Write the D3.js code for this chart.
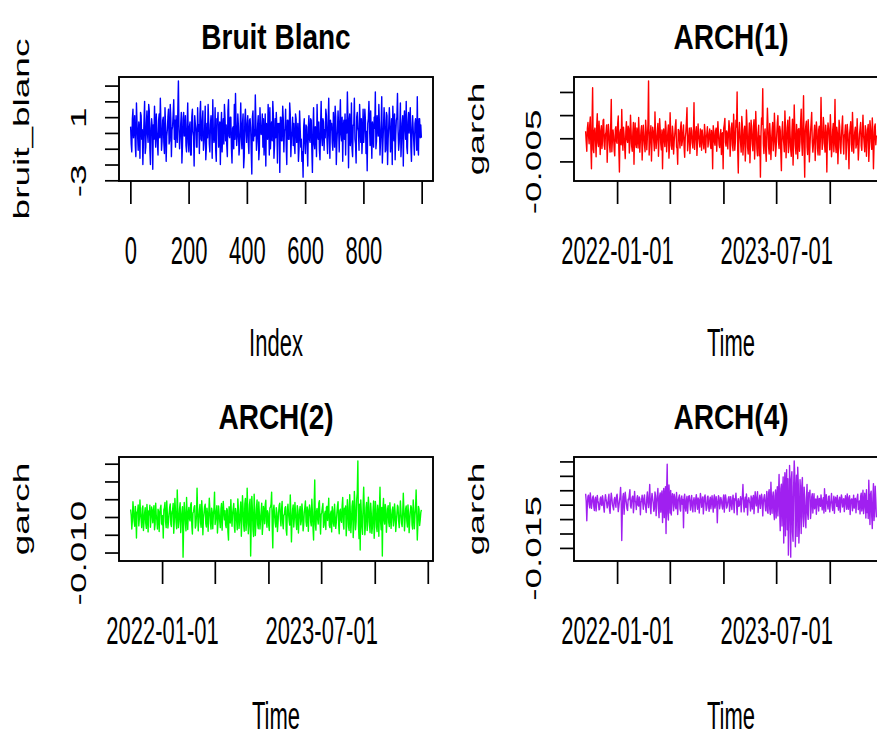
<!DOCTYPE html>
<html>
<head>
<meta charset="utf-8">
<script src="https://cdn.jsdelivr.net/npm/d3@7"></script>
<style>
  body { margin: 0; background: #fff; }
  svg { display: block; background: #fff; }
</style>
</head>
<body>
<svg id="chart" width="877" height="738"></svg>
<script>
// ---- Data -----------------------------------------------------------------
// White noise N(0,1): every 2nd observation of a 1000-point series.
const bruitBlanc = [
  0.4, -0.7, -1.2, 0.9, 1.5, -0.3, 0.3, 1.1, -0.8, -1.5, 1.9, 0.6, -0.2, -1.1, 0.7, 0.2, -1.6, 1.3, 1.1, -0.4, 0.2, -2.0, -0.5, 0.8, 2.0,
  -1.3, -0.9, 0.6, 1.4, -0.1, -0.6, 1.8, 1.4, -1.0, -2.0, 0.3, 0.9, 0.4, -2.3, 0.5, -0.4, 1.7, 0.1, -0.9, 1.2, 0.1, -0.7, -1.4, 0.8, 1.2,
  -0.3, 2.2, 0.6, -1.1, -0.5, 0.8, 1.0, -0.6, -1.3, 1.6, 0.4, -1.8, -0.2, 0.2, 1.0, 1.5, -0.7, -0.5, 1.8, 0.9, -1.5, 0.2, 0.4, 1.2, 2.1,
  -0.4, 0.8, -0.9, 1.1, 0.3, -0.6, 1.4, 3.3, 0.2, -1.0, -0.3, 0.6, 1.3, -1.9, -0.8, 0.9, 1.3, -0.2, 0.0, 1.1, -0.8, -1.2, 0.5, 1.9, -0.6,
  -1.2, 0.4, 0.7, -1.4, -1.4, 1.0, 1.5, 0.1, -0.2, -2.1, 1.1, 0.6, 0.3, -0.9, -0.9, 1.6, 0.1, 0.5, -1.3, 1.2, 2.0, -0.4, -0.5, 0.8, 1.4,
  -1.1, -0.6, 0.2, 1.7, -1.7, -0.9, 0.6, -0.3, 1.8, 0.7, -0.7, -1.2, 0.5, 1.1, 0.3, -1.6, 2.1, 0.0, -0.6, -0.3, 1.6, -1.1, -1.8, 0.9, 0.6,
  1.3, -0.9, -0.1, 0.7, -2.0, 0.2, 1.3, -1.2, 0.1, 0.9, -0.7, 1.8, 1.0, -0.5, 0.5, -0.8, -1.5, 1.4, 2.1, -0.2, -0.3, 1.0, 1.0, -1.0, -1.9,
  0.3, 0.4, -1.0, 1.8, -0.4, 2.5, 0.5, -0.8, -0.2, 1.2, 0.4, -1.4, -0.9, 0.3, 1.9, -0.3, -1.0, 0.6, 1.2, -2.2, -1.5, 0.8, 1.5, 0.2, -0.6,
  0.5, 1.1, -0.6, -1.3, 0.8, 0.9, 0.3, -1.2, -2.6, 1.0, 1.4, -0.5, 0.2, -0.2, 2.4, 0.7, -1.1, -0.5, 0.5, 1.1, -1.7, -1.0, 1.6, 0.4, -0.1,
  0.0, 1.2, -0.9, 0.9, -1.4, -0.3, 1.2, -2.1, 0.6, 0.3, -0.4, 1.8, 0.7, -1.4, 1.6, -1.0, 0.1, 0.7, -0.5, 2.0, 1.1, -1.6, -0.8, 0.9, -0.3,
  1.3, 0.3, -1.9, 0.6, 0.2, 0.6, -2.5, 1.0, 1.0, -0.5, -0.5, 1.7, 0.9, -1.2, 0.2, 0.2, 1.5, -0.8, -2.0, 0.8, 0.8, -0.4, -0.4, 1.9, 1.2,
  -1.5, -0.3, 0.1, 1.0, -0.8, 0.6, -0.7, -1.3, 1.2, 0.9, -0.6, -0.5, 0.6, -1.8, -1.0, 1.4, 0.3, -0.9, -0.4, -1.8, -1.2, -2.8, 0.4, 0.9, -0.6,
  -1.3, 0.5, 0.4, -0.8, -2.1, 0.3, 1.1, -0.4, -0.6, 0.9, 0.8, -1.1, -2.5, 0.2, 1.6, -0.7, -1.0, 0.4, 0.3, -1.5, 1.8, 0.1, -0.4, 0.7, -1.1,
  -1.7, 0.4, 2.0, -0.3, -0.8, 0.9, 0.7, -1.1, 0.2, -0.3, 1.5, 1.1, -0.4, -1.3, 0.6, 2.2, -0.2, -1.6, 0.8, 0.2, 0.6, -0.6, -1.1, 1.3, 0.4,
  -0.9, 1.7, 1.0, -2.0, -0.6, 0.2, 1.4, 0.3, -1.2, 0.7, 2.1, -0.1, -0.5, 1.0, -1.8, 0.4, 0.8, -0.4, 1.2, -1.4, 0.8, 0.0, 2.6, 0.9, -2.2,
  0.7, 1.2, -0.8, -0.3, 1.9, -1.0, -1.5, 0.5, 0.5, 2.2, -0.4, -0.7, -1.9, 1.0, 1.3, 0.3, 0.1, -1.1, 1.8, 0.6, -0.6, 0.9, -1.3, -0.3, 1.5,
  -0.6, 0.2, 1.5, 0.8, -1.3, 0.1, -2.4, 0.6, 0.9, 2.0, 0.4, -0.8, 1.4, -0.1, -1.6, 0.7, 0.3, -0.9, 1.0, 0.3, 2.6, -1.0, -0.5, 1.1, 0.4,
  -0.2, 1.8, 0.6, -1.4, -0.5, 0.6, 2.3, -1.9, -0.7, 0.4, 1.6, 0.8, -1.2, -1.1, 1.3, 1.1, -2.0, -0.4, 0.4, 1.6, 0.7, -1.2, -0.3, 0.9, -2.0,
  1.7, 0.5, -0.5, 1.2, -1.7, -0.2, 0.8, 1.0, 2.5, 0.2, -1.1, -0.6, 0.3, 1.9, -1.5, -0.4, 0.6, 1.1, -2.1, 0.5, 1.4, 0.3, -0.4, 2.0, -0.9,
  -1.3, 0.7, 1.3, 0.0, 0.7, 1.6, -0.9, -1.8, 0.3, 1.1, 0.2, -0.6, -1.4, 0.6, 0.9, 0.2, -1.1, 2.3, -0.8, -1.4, 0.9, 0.9, -0.3, 0.5, -0.3
];

// Simulated ARCH returns in thousandths (x 1e-3), one value every 2 days.
const arch1 = [
  1.5, -0.8, -2.8, 2.1, 3.4, 0.6, -1.2, 2.8, 4.6, -1.9, -6.6, 3.2, 10.9, -2.4, -3.1, 1.7, 2.2, -0.5, -4.0, 2.6, 5.3, -1.0, -1.8, 3.7, 0.9,
  -3.5, 1.4, 2.7, -2.2, -0.6, 3.9, 4.1, -1.6, -2.4, 0.8, 1.3, 2.9, -5.2, -0.9, 3.0, 1.1, -1.5, -3.0, 2.5, 8.4, -2.9, -0.3, 1.8, 0.4, -2.6,
  -3.8, 2.0, 2.5, -0.7, -1.1, 3.1, 4.8, -2.3, -7.3, 1.2, 1.9, -1.4, 6.2, 0.3, -2.6, 2.4, 0.7, -1.7, -4.4, 1.5, 3.6, -0.2, -0.9, 2.6, 2.1,
  -3.2, -1.0, 5.0, 1.8, -1.7, -2.8, 1.2, 3.4, -5.6, 0.5, 3.3, -1.3, -2.0, 2.2, 0.3, -2.1, 4.5, 1.0, -3.0, -0.4, 1.6, 2.7, -4.7, -1.2, 2.8,
  0.6, -1.4, -2.9, 3.9, 1.4, -2.5, 0.2, 3.0, 12.4, -3.6, -1.1, 1.0, 2.7, -4.9, -0.6, 2.4, 1.6, -0.8, -2.7, 5.7, 0.8, -2.2, -0.4, 1.5, 3.2,
  -3.9, -0.5, 4.2, 1.9, -1.3, -2.5, 1.8, -6.6, 0.7, 2.0, -0.5, -1.8, 3.7, 2.3, -2.9, -0.6, 1.1, 2.9, -4.3, -1.5, 5.5, 1.2, -1.6, -2.4, 2.6,
  1.0, -3.4, -0.7, 0.8, 2.7, 4.0, -1.9, -2.2, -5.6, 1.9, 1.7, -0.3, -2.1, 2.4, 3.5, -1.6, -0.7, 1.5, 2.9, -2.0, -4.1, 0.2, 1.3, 3.6, 6.6,
  -2.7, -1.0, 0.5, 2.2, -3.3, -0.8, 2.3, 1.6, -1.0, -2.1, 0.9, 7.7, -2.4, -0.3, 1.4, 2.5, -3.7, -1.1, 3.1, 0.7, -0.4, -1.9, 2.0, 1.2, -2.6,
  1.8, 0.4, -1.2, -2.3, 3.0, 1.3, -3.1, 0.2, 0.9, 2.5, -1.9, -0.6, 1.1, 2.0, -1.4, -2.2, 1.7, 0.5, -6.6, 2.7, 1.4, -0.8, -1.5, 1.6, 2.2,
  -2.8, 0.3, 3.6, 1.0, -1.4, -2.0, 0.6, 1.9, -3.5, 0.8, 1.2, -6.6, 2.2, 3.0, 4.3, -0.9, -1.7, 1.6, 1.0, -2.3, 0.6, 3.8, 2.1, -3.9, -1.0,
  2.1, 3.3, -1.5, -2.7, 5.2, 1.4, -2.6, -0.8, 3.9, 2.4, 10.0, -2.5, -7.5, 1.1, 3.4, 0.6, -1.1, -3.0, 4.7, 2.8, -3.6, -1.4, 1.8, 2.6, -4.9,
  -1.7, 6.1, 2.9, -2.0, -3.4, 0.7, 3.3, -5.3, -0.5, 3.9, 1.6, -1.3, -2.7, 2.6, 4.0, -4.5, -0.9, 5.8, 1.5, -2.4, -3.8, 1.2, 2.8, -3.8, 0.5,
  -8.4, 1.0, 4.4, 3.0, 10.7, -1.2, -3.3, 0.9, 2.0, -2.6, -5.0, 1.3, 6.5, 2.5, -1.8, -3.4, 3.2, 0.4, -4.6, -1.0, 1.5, 3.4, -2.7, -0.9, 5.4,
  1.9, -3.9, -2.0, 0.8, 3.3, 4.9, -0.8, -2.2, 2.6, 1.7, -3.2, -7.0, 1.4, 3.6, 0.2, -1.0, -2.9, 5.9, 2.2, -4.2, -0.6, 2.3, 3.9, -3.1, -1.7,
  4.6, 0.8, -2.5, -3.9, 1.3, 4.1, -5.8, -1.2, 7.2, 2.0, -1.6, -3.4, 3.0, 0.5, -4.4, 1.9, 2.1, -2.8, -0.7, 3.6, 6.3, -1.2, -3.7, 2.4, 9.2,
  -2.0, -8.4, 1.5, 2.9, 3.7, -1.9, -3.5, 4.0, 1.1, -5.1, -1.8, 1.4, 3.3, 5.6, -0.9, -3.0, -1.3, 0.9, 2.8, -4.8, -0.2, 3.5, 1.9, -2.3, -3.6,
  1.8, 2.6, -3.6, 0.3, 8.8, 1.7, -2.4, -1.0, 4.5, 2.3, -1.2, -3.0, 2.8, 1.0, -7.3, 0.8, 3.3, 2.1, -0.6, -2.5, 5.1, 1.4, -4.0, -1.8, 1.7,
  3.2, -2.9, 0.2, 8.4, -1.5, -3.1, 2.4, 1.2, -5.5, -1.4, 3.9, 2.6, -2.0, -3.3, 0.5, 2.7, 4.8, -1.1, -3.4, 0.6, 1.1, 2.9, -4.6, -0.8, 3.0,
  1.2, -2.2, -6.6, 0.9, 2.2, 3.6, -1.3, -2.8, 5.6, 1.3, -3.2, -0.4, 1.5, 2.4, -2.1, -1.2, 4.2, 0.3, -4.7, -2.0, 0.9, 2.1, 3.4, -1.6, -2.6,
  1.4, 5.0, 0.7, -1.1, -2.9, 2.7, 1.8, -3.9, -0.5, 1.9, 3.0, -5.0, -1.7, 3.8, 2.2, -0.8, -2.4, 4.4, 1.3, -6.6, -1.5, 2.5, 3.1, -1.4, 0.6
];

const arch2 = [
  2.1, 0.5, -3.4, -1.0, 4.3, 1.8, -1.2, -2.6, 3.0, 0.7, -5.9, 1.3, 1.6, 3.4, -2.5, -0.4, 4.8, 1.1, -0.7, -3.0, 2.4, 3.1, -3.8, -1.5, 1.1,
  2.6, -1.9, -3.2, 3.5, 0.9, -4.2, 1.7, 0.6, 3.3, -2.9, -0.5, 2.8, 1.9, -1.6, 1.4, 3.2, -3.6, -2.1, 3.9, 0.3, -0.9, -3.4, 2.2, 1.5, -4.1,
  1.0, 2.4, 3.3, -1.8, -2.2, 0.4, -5.9, 2.0, 2.6, 4.1, -1.4, -3.0, 4.5, 1.2, -3.1, -1.3, 0.8, 2.7, 3.7, -2.0, -2.7, 1.4, 1.9, 3.8, -4.6,
  -1.1, 5.2, 1.6, -1.5, -3.3, 7.6, 2.1, -3.0, -1.2, 2.3, 4.0, -4.4, -0.6, 1.3, 2.9, -11.3, -2.4, 4.1, 1.8, -2.0, -3.9, 5.5, 0.9, -3.5, 1.2,
  2.7, -0.6, -1.1, 3.4, 4.0, -2.3, -4.8, 1.1, 1.5, 2.8, 3.2, -3.1, -2.4, 0.5, 8.1, 1.4, -3.9, -0.8, 2.0, 3.5, -1.6, -2.9, 4.6, 1.7, -5.0,
  -0.3, 1.2, 3.0, 3.6, -1.9, -2.8, 2.5, 0.9, -4.0, 0.2, 5.3, 2.2, -1.8, -3.4, 2.5, 1.4, -3.3, 0.6, 2.3, 7.0, -2.1, -0.7, 1.7, 3.2, -4.5,
  -1.6, 3.1, 0.8, -1.3, -3.0, 2.2, 3.8, -3.7, 0.4, 4.4, 1.5, -0.8, 1.8, -2.2, -3.0, 2.4, 1.9, -4.2, -6.5, 2.9, 1.7, -1.7, 4.9, 0.6, -2.6,
  1.0, 2.3, 3.8, -2.7, -4.3, 2.4, 1.3, -1.2, -3.6, 5.1, 2.0, -3.2, -1.4, 1.6, 4.2, -5.4, -0.5, 6.0, 2.6, -2.3, -4.0, 3.7, 5.2, -3.8, -1.9,
  8.1, 2.4, -4.7, -2.5, 3.5, 5.0, -11.0, -1.8, 5.8, 2.2, -3.6, -5.5, 6.4, 1.9, -5.2, -2.0, 2.6, 4.8, -2.1, -3.3, 4.2, 0.8, -3.4, -1.0, 1.5,
  3.9, -4.9, -2.2, 3.0, 1.4, -1.9, 3.5, 4.7, -1.1, -2.9, 1.8, 1.1, -2.4, -3.8, 2.5, 2.8, 3.6, 7.0, -2.5, -8.7, 1.9, 3.3, 0.6, -1.5, -2.8,
  2.6, 1.2, -4.1, -1.6, 1.4, 3.3, 3.9, -0.5, -2.5, 2.1, 4.4, -1.7, -3.3, 0.5, 0.7, 2.6, 2.9, -3.7, -5.1, 1.8, 3.6, 0.9, -1.0, -2.3, 6.2,
  1.1, -7.0, -1.2, 2.1, 3.4, -2.8, -0.4, 4.1, 1.2, -1.7, -3.5, 3.2, 2.0, -4.5, -0.9, 1.8, 3.0, -2.2, -1.1, 3.7, 1.6, -3.9, -2.4, 1.2, 2.7,
  4.5, -1.3, -2.6, 2.8, 1.9, -4.0, 0.3, 3.4, 2.2, -1.4, -2.5, 5.0, 1.4, -3.0, -6.5, 3.3, 10.4, -2.0, -3.7, 1.5, 2.4, -0.6, -2.0, 3.9, 4.6,
  -1.2, -4.8, 0.7, 1.3, 2.6, 3.8, -2.9, -2.3, 0.9, 1.6, -3.5, 2.7, 3.0, -1.0, 1.2, 5.3, -2.4, -3.0, 0.8, 1.6, -4.2, 2.9, 1.9, -1.8, -2.6,
  3.6, 0.4, -3.2, -1.5, 1.1, 3.1, 4.3, -2.0, -4.7, 1.7, 2.2, -0.9, -1.5, 3.0, 5.5, -1.8, -3.4, 2.5, 0.8, 3.1, -5.3, -1.9, 4.9, 2.6, -2.7,
  -3.8, 6.3, 1.5, -4.4, -1.0, 3.0, 4.5, -5.8, -2.2, 7.2, 2.8, -3.6, -1.4, 5.0, 6.8, 15.8, -2.3, -6.1, 3.6, -9.3, 4.8, 1.2, -3.1, -4.9, 3.4,
  8.4, 2.0, -5.0, -2.6, 2.6, 4.1, -3.8, -1.3, 5.6, 3.0, -2.4, -4.4, 3.9, 1.1, -4.6, -2.8, 1.7, 4.5, -6.0, -1.9, 4.4, 2.3, -2.9, -4.1, 3.3,
  1.5, -5.4, 2.2, 8.4, -1.4, -3.6, 2.7, -11.0, 1.9, 5.2, -0.8, -2.0, 3.5, 2.4, -4.3, -1.2, 2.1, 3.2, -1.6, -2.7, 4.0, 1.1, -3.2, -0.6, 1.9,
  2.8, -2.5, -0.9, 3.7, 1.3, -4.1, -1.6, 1.0, 3.3, 2.8, -1.2, -3.0, 0.4, 4.5, 1.5, -1.8, -2.7, 1.2, 6.7, 2.0, -3.9, -1.1, 2.3, 3.1, -1.1,
  -2.8, 3.4, 0.9, -4.4, -1.3, 1.5, 3.2, 2.6, -2.2, -3.4, 4.8, 1.7, -3.3, 0.3, 2.4, 7.6, 1.0, -6.5, -2.3, 3.0, 2.2, -2.4, -0.9, 1.2, 2.0
];

const arch4 = [
  3.8, 1.2, -5.6, 0.4, 2.9, 3.3, 0.2, -1.1, 4.1, 1.9, -1.3, 0.7, 2.4, 3.0, -0.6, -2.0, 1.8, 2.6, -2.2, 0.3, 3.2, 1.4, 0.5, -1.8, -1.5,
  2.1, 2.7, 0.0, -0.3, 3.1, 1.6, -0.9, -2.6, 1.3, 3.5, 2.0, 0.8, -1.1, -0.2, 2.2, 3.6, -1.7, -3.0, 1.5, 4.0, 2.3, 0.1, -0.8, -1.8, 1.7,
  2.5, 0.6, -0.9, 2.9, 3.6, 1.1, -2.4, -0.7, 1.2, 2.8, 6.0, 1.0, -12.4, -2.1, 2.8, 3.9, -3.3, 0.5, 4.3, 2.2, 0.4, -1.4, -2.0, 1.9, 1.7,
  3.4, 5.2, -0.5, -1.2, 1.4, 2.6, 3.0, -2.8, -0.4, 4.6, 1.3, 0.9, -1.7, 2.0, 3.1, -0.2, -0.5, 2.7, 2.0, -3.5, 0.6, 1.4, 3.3, 0.8, -1.6,
  2.1, 3.4, 0.3, -0.9, -2.7, 2.5, 4.4, 1.0, -1.0, 2.4, 7.0, -0.3, -3.1, 1.8, 3.9, 2.2, 0.6, -2.3, -1.5, 4.4, 3.1, -3.8, 0.9, 2.9, 5.6,
  -1.2, -4.5, 3.0, 4.1, -2.6, 2.4, 4.8, -6.2, 1.5, 5.6, -4.5, 3.0, 6.2, -10.0, 4.2, 14.0, -3.0, -5.3, 6.8, 2.2, -2.9, 4.9, -3.6, 1.0, 3.8,
  1.9, -2.1, 3.6, 2.6, -0.7, -1.4, 4.2, 1.2, -3.4, 1.5, 2.5, 3.4, -1.4, -2.2, 2.2, 3.0, 0.1, 1.8, -8.0, 2.5, 3.6, -1.1, -2.2, 1.8, 2.9,
  -3.0, 0.5, 2.9, 3.1, 0.7, -1.9, 1.4, 3.2, -0.8, -2.5, 1.3, 2.4, 0.8, -2.4, 2.0, 3.5, 0.4, -1.6, 2.3, 1.7, -2.9, 0.6, 3.9, 2.2, -0.9,
  1.1, 2.7, -3.2, -0.4, 2.7, 3.4, 0.6, -2.0, -1.1, 2.6, 3.0, -0.5, -2.3, 1.5, 2.6, -1.4, 0.9, 3.1, 0.3, -2.6, 1.9, 3.4, -1.2, 0.2, 2.8,
  0.9, -6.3, 0.2, 3.1, 2.3, -1.4, 0.2, 2.5, 1.6, -0.3, -1.5, 1.9, 3.4, -2.6, 0.7, 3.4, 2.0, -1.2, -0.5, 0.9, 2.3, 2.8, -2.3, 0.1, 2.8,
  0.2, -1.7, 1.4, 3.3, 0.5, -2.8, 2.1, 1.6, 4.0, 0.3, -3.5, 1.0, 2.1, -0.6, -0.2, 1.4, 2.8, -2.5, 1.6, 2.6, 7.0, 0.4, -2.5, 1.3, 2.6,
  -1.0, 3.7, 0.9, -3.6, 1.2, 2.4, 1.2, 0.5, -2.2, 3.0, 1.8, -1.5, 2.3, 3.2, -3.1, 0.7, 4.5, 1.1, -0.4, 2.6, 4.5, -2.7, -0.3, 1.8, 3.3,
  -1.3, 0.9, 3.6, 2.0, -3.9, 0.8, 2.4, 3.5, 0.0, -2.1, 1.6, 4.6, -2.4, -3.0, 3.9, 5.2, -1.6, -3.4, 7.8, 1.5, -3.0, 2.6, 4.4, -2.8, -5.2,
  3.1, 5.1, -4.6, 1.4, 6.2, -3.9, 2.8, 10.5, -2.2, -9.0, 5.5, 7.1, -7.4, 3.6, 9.6, -13.3, 4.0, 11.1, -10.8, 6.5, 12.1, -8.7, 9.0, -17.5, -6.4,
  13.6, 5.2, -18.2, 8.8, 11.4, -9.5, -12.7, 6.0, 15.2, 9.9, -14.6, 4.3, 10.2, -11.0, 13.0, 7.2, -13.3, -6.8, 8.7, 3.5, -10.0, 6.4, 9.4, -4.3, -7.6,
  6.1, 2.3, -5.0, -8.0, 1.8, 7.0, -3.1, -5.1, 4.2, 2.8, 5.0, -4.8, -1.9, 2.6, 3.8, -2.9, 0.9, 3.8, -1.4, 1.1, 2.0, -3.3, 0.8, 3.0, 0.5,
  -2.2, 2.2, 1.7, -0.6, 3.4, 0.7, -1.8, 1.5, 2.4, -2.9, 5.5, 0.8, -2.3, 3.5, 1.2, 0.3, -1.5, 2.8, 3.0, -2.5, 0.2, 1.2, 3.9, -0.5, -2.0,
  0.8, 2.9, -3.0, 1.1, 2.6, 1.5, -0.6, 3.2, -0.2, -1.9, 1.5, 2.6, -2.6, 0.5, 3.4, 2.2, -0.8, 1.0, 2.1, -2.4, 0.4, 3.1, 1.0, -1.6, 3.7,
  0.3, -1.6, 2.5, 3.1, -3.4, 0.6, 1.9, 2.0, -2.1, 0.4, 3.3, -1.2, 1.6, 2.2, -2.8, 0.9, 2.4, 3.6, -1.7, 0.2, 1.3, -3.2, 2.9, 4.0, -2.2,
  0.1, 5.0, -3.1, -1.0, 4.0, 2.4, -4.6, 5.2, -2.7, 1.4, -4.8, 8.5, 0.8, -6.9, 3.6, 4.7, -3.9, -8.3, 2.0, 7.3, -5.5, -2.1, 6.4, 1.8, -4.4
];

const garchUnit = 1e-3;
const seriesStart = "2021-09-15";
const sampleStep = 2;               // observations / days between stored values

const titles = ["Bruit Blanc", "ARCH(1)", "ARCH(2)", "ARCH(4)"];
const yTitles = ["bruit_blanc", "garch", "garch", "garch"];
const xTitles = ["Index", "Time", "Time", "Time"];
const colors = ["#0000ff", "#ff0000", "#00ff00", "#a020f0"];

const indexTicks = [0, 200, 400, 600, 800, 1000];
const indexTickLabels = ["0", "200", "400", "600", "800", ""];
const timeTicks = ["2022-01-01", "2022-07-01", "2023-01-01", "2023-07-01", "2024-01-01", "2024-07-01"];
const timeTickLabels = ["2022-01-01", "", "", "2023-07-01", "", ""];

const noiseYTicks = [-3, -2, -1, 0, 1, 2, 3];
const noiseYTickLabels = ["-3", "", "", "", "1", "", ""];
const arch1YTicks = [-0.005, 0, 0.005, 0.010];
const arch1YTickLabels = ["-0.005", "", "", ""];
const arch2YTicks = [-0.010, -0.005, 0, 0.005, 0.010, 0.015];
const arch2YTickLabels = ["-0.010", "", "", "", "", ""];
const arch4YTicks = [-0.015, -0.010, -0.005, 0, 0.005, 0.010, 0.015];
const arch4YTickLabels = ["-0.015", "", "", "", "", "", ""];

// ---- Layout ---------------------------------------------------------------
const W = 877, H = 738;
const boxW = 314, boxH = 104;
const boxes = [
  { left: 119, top: 77 },
  { left: 574, top: 77 },
  { left: 119, top: 457 },
  { left: 574, top: 457 }
];
const FONT = "'Liberation Sans', Arial, Helvetica, sans-serif";
const textStretch = 1.75;     // axis text is drawn tall and narrow
const titleStretch = 1.25;

const day = 86400000;
const parseDay = d3.utcParse("%Y-%m-%d");
const t0 = parseDay(seriesStart).getTime();

const timeAxisOf = vals => vals.map((_, i) => new Date(t0 + sampleStep * i * day));

const panels = [
  {
    values: bruitBlanc,
    xs: bruitBlanc.map((_, i) => 1 + sampleStep * i),
    time: false, xTicks: indexTicks, xTickLabels: indexTickLabels,
    yTicks: noiseYTicks, yTickLabels: noiseYTickLabels
  },
  {
    values: arch1.map(v => v * garchUnit), xs: timeAxisOf(arch1),
    time: true, xTicks: timeTicks.map(parseDay), xTickLabels: timeTickLabels,
    yTicks: arch1YTicks, yTickLabels: arch1YTickLabels
  },
  {
    values: arch2.map(v => v * garchUnit), xs: timeAxisOf(arch2),
    time: true, xTicks: timeTicks.map(parseDay), xTickLabels: timeTickLabels,
    yTicks: arch2YTicks, yTickLabels: arch2YTickLabels
  },
  {
    values: arch4.map(v => v * garchUnit), xs: timeAxisOf(arch4),
    time: true, xTicks: timeTicks.map(parseDay), xTickLabels: timeTickLabels,
    yTicks: arch4YTicks, yTickLabels: arch4YTickLabels
  }
];

// R-style 4% padding around the data range
function padded(ext) {
  const a = +ext[0], b = +ext[1], p = (b - a) * 0.04;
  return [a - p, b + p];
}

const svg = d3.select("#chart");

panels.forEach((p, k) => {
  const b = boxes[k];
  const x0 = b.left, x1 = b.left + boxW, y0 = b.top, y1 = b.top + boxH;
  const cx = (x0 + x1) / 2, cy = (y0 + y1) / 2;

  const xd = padded(d3.extent(p.xs));
  const x = p.time
    ? d3.scaleUtc().domain([new Date(xd[0]), new Date(xd[1])]).range([x0, x1])
    : d3.scaleLinear().domain(xd).range([x0, x1]);
  const y = d3.scaleLinear().domain(padded(d3.extent(p.values))).range([y1, y0]);

  const g = svg.append("g");

  // series
  const line = d3.line().x((d, i) => x(p.xs[i])).y(d => y(d));
  g.append("path")
    .datum(p.values)
    .attr("d", line)
    .attr("fill", "none")
    .attr("stroke", colors[k])
    .attr("stroke-width", 1.4)
    .attr("stroke-linejoin", "round");

  // left axis
  const yAxis = d3.axisLeft(y)
    .tickValues(p.yTicks)
    .tickSize(14).tickSizeOuter(0)
    .tickFormat((d, i) => p.yTickLabels[i]);
  const ga = g.append("g").attr("transform", `translate(${x0},0)`).call(yAxis);
  ga.select(".domain").remove();
  ga.selectAll(".tick line").attr("stroke", "#000").attr("stroke-width", 1.7);
  ga.selectAll(".tick text")
    .attr("x", null).attr("dy", null)
    .attr("font-family", FONT).attr("font-size", 22).attr("fill", "#000")
    .attr("text-anchor", "middle")
    .attr("transform", `translate(-33,0) rotate(-90) scale(1.68,1)`);

  // bottom axis
  const xAxis = d3.axisBottom(x)
    .tickValues(p.xTicks)
    .tickSize(23).tickSizeOuter(0)
    .tickFormat((d, i) => p.xTickLabels[i]);
  const gb = g.append("g").attr("transform", `translate(0,${y1})`).call(xAxis);
  gb.select(".domain").remove();
  gb.selectAll(".tick line").attr("stroke", "#000").attr("stroke-width", 1.7);
  gb.selectAll(".tick text")
    .attr("y", null).attr("dy", null)
    .attr("font-family", FONT).attr("font-size", 22).attr("fill", "#000")
    .attr("text-anchor", "middle")
    .attr("transform", `translate(0,83) scale(1,${textStretch})`);

  // frame
  g.append("rect")
    .attr("x", x0).attr("y", y0).attr("width", boxW).attr("height", boxH)
    .attr("fill", "none").attr("stroke", "#000").attr("stroke-width", 1.9);

  // titles
  g.append("text")
    .attr("transform", `translate(${cx},${y0 - 28}) scale(1,${titleStretch})`)
    .attr("text-anchor", "middle")
    .attr("font-family", FONT).attr("font-weight", "bold").attr("font-size", 28)
    .text(titles[k]);

  // x-axis title, kept inside the page at the bottom row
  const xTitleY = Math.min(y1 + 175, H - 9);
  g.append("text")
    .attr("transform", `translate(${cx},${xTitleY}) scale(1,${textStretch})`)
    .attr("text-anchor", "middle")
    .attr("font-family", FONT).attr("font-size", 22)
    .text(xTitles[k]);

  g.append("text")
    .attr("transform", `translate(${x0 - 90},${cy}) rotate(-90) scale(1.68,1)`)
    .attr("text-anchor", "middle")
    .attr("font-family", FONT).attr("font-size", 22)
    .text(yTitles[k]);
});
</script>
</body>
</html>
